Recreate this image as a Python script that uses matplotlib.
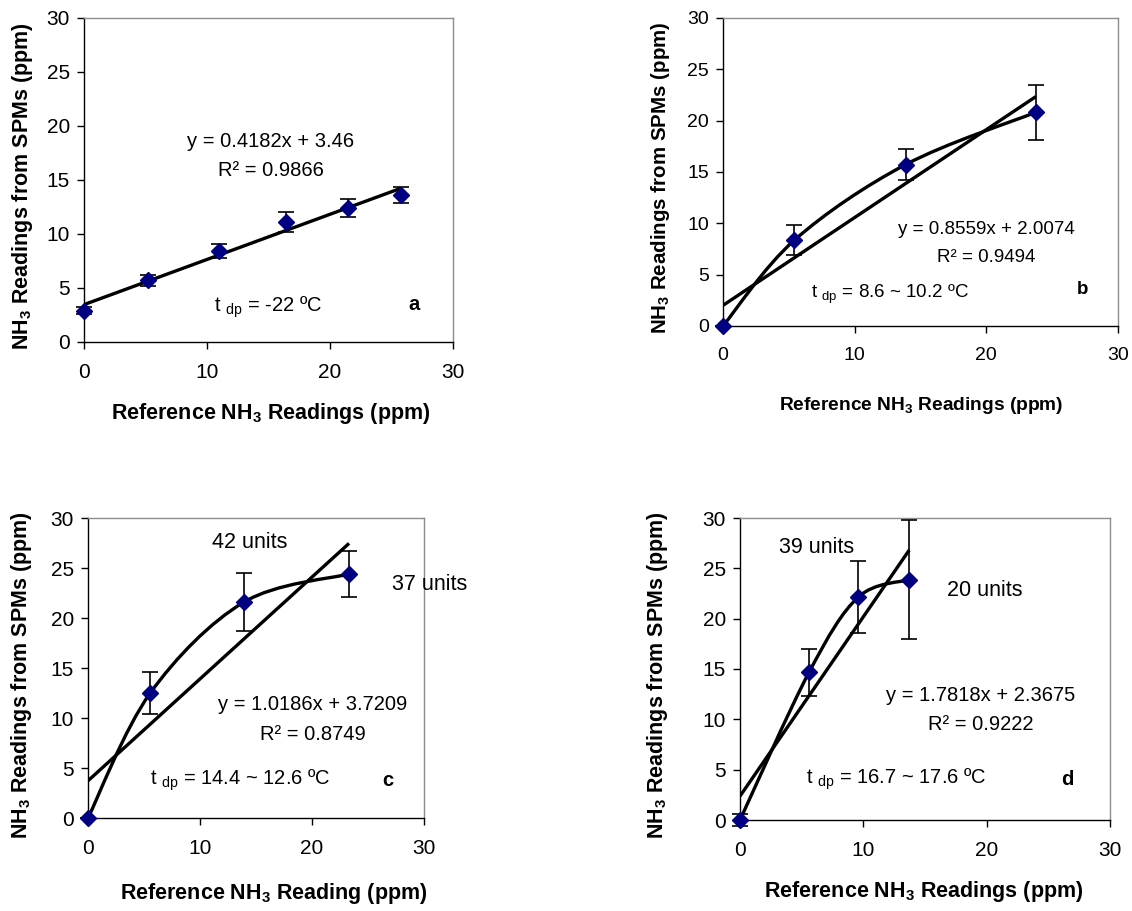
import numpy as np
import matplotlib
matplotlib.use("Agg")
import matplotlib.pyplot as plt
from matplotlib.path import Path

plt.rcParams['font.family'] = ['Liberation Sans', 'DejaVu Sans']
plt.rcParams['mathtext.fontset'] = 'custom'
plt.rcParams['mathtext.rm'] = 'Liberation Sans'
plt.rcParams['mathtext.it'] = 'Liberation Sans'
plt.rcParams['mathtext.bf'] = 'Liberation Sans:bold'

# ---------------- data ----------------
a_x = [0, 5.2, 10.95, 16.45, 21.5, 25.75]
a_y = [2.9, 5.7, 8.4, 11.1, 12.4, 13.6]
a_err = [0.3, 0.5, 0.65, 0.9, 0.8, 0.75]
a_fit = (0.4182, 3.46)

b_x = [0, 5.43, 13.88, 23.77]
b_y = [0, 8.37, 15.73, 20.82]
b_err = [0, 1.5, 1.5, 2.7]
b_fit = (0.8559, 2.0074)

c_x = [0, 5.56, 13.89, 23.31]
c_y = [0, 12.5, 21.57, 24.4]
c_err = [0, 2.1, 2.9, 2.3]
c_fit = (1.0186, 3.7209)

d_x = [0, 5.6, 9.59, 13.72]
d_y = [0, 14.68, 22.14, 23.87]
d_err = [0.6, 2.35, 3.55, 5.9]
d_fit = (1.7818, 2.3675)

xticks = [0, 10, 20, 30]
yticks = [0, 5, 10, 15, 20, 25, 30]

W, H = 1132, 911
fig = plt.figure(figsize=(W / 100, H / 100), dpi=100)


def px_axes(l, r, t, b):
    return fig.add_axes([l / W, 1 - b / H, (r - l) / W, (b - t) / H])


def style(ax, fs=15):
    ax.set_xlim(0, 30)
    ax.set_ylim(0, 30)
    ax.set_xticks(xticks)
    ax.set_yticks(yticks)
    for s in ['top', 'right']:
        ax.spines[s].set_color('#8c8c8c')
    for s in ['left', 'bottom']:
        ax.spines[s].set_color('black')
    for s in ax.spines.values():
        s.set_linewidth(1.0)
    ax.tick_params(direction='out', length=5, width=1, labelsize=fs)
    ax.tick_params(axis='y', pad=5)
    ax.tick_params(axis='x', pad=10)


def smooth_path(x, y):
    # Excel-style smoothed line: cubic Bezier segments with Catmull-Rom control points
    P = np.column_stack([x, y])
    n = len(P)
    verts = [P[0]]
    codes = [Path.MOVETO]
    for i in range(n - 1):
        p0 = P[i - 1] if i > 0 else P[i]
        p1 = P[i]
        p2 = P[i + 1]
        p3 = P[i + 2] if i + 2 < n else P[i + 1]
        c1 = p1 + (p2 - p0) / 6.0
        c2 = p2 - (p3 - p1) / 6.0
        verts += [c1, c2, p2]
        codes += [Path.CURVE4] * 3
    return Path(verts, codes)


def draw(ax, x, y, err, fit, curve=True):
    x = np.asarray(x, float)
    y = np.asarray(y, float)
    xs = np.array([x.min(), x.max()])
    ax.plot(xs, fit[0] * xs + fit[1], color='black', lw=2.4, zorder=3,
            solid_capstyle='butt')
    if curve:
        import matplotlib.patches as mpatches
        ax.add_patch(mpatches.PathPatch(smooth_path(x, y), fill=False,
                                        edgecolor='black', lw=2.4, zorder=3))
    ax.errorbar(x, y, yerr=err, fmt='none', ecolor='black', elinewidth=1.2,
                capsize=6, capthick=1.2, zorder=4, clip_on=False)
    ax.plot(x, y, linestyle='none', marker='D', ms=8, color='#000080',
            zorder=5, clip_on=False)


NH3_Y = r'NH$_\mathbf{3}$ Readings from SPMs (ppm)'
TFS = 14.5
LFS = 15.5

# ---- panel a ----
ax = px_axes(84, 453, 18, 342)
style(ax)
draw(ax, a_x, a_y, a_err, a_fit, curve=False)
ax.text(15.2, 18.6, 'y = 0.4182x + 3.46', ha='center', va='center', fontsize=TFS)
ax.text(15.2, 15.9, 'R² = 0.9866', ha='center', va='center', fontsize=TFS)
ax.text(15.0, 3.25, r't $_{\mathrm{dp}}$ = -22 ºC', ha='center', va='center', fontsize=TFS)
ax.text(26.8, 3.5, 'a', ha='center', va='center', fontsize=TFS, fontweight='bold')
fig.text(271 / W, 1 - 413 / H, r'Reference NH$_\mathbf{3}$ Readings (ppm)', ha='center', va='center',
         fontsize=LFS, fontweight='bold')
fig.text(23 / W, 1 - 186 / H, NH3_Y, ha='center', va='center', rotation=90,
         fontsize=LFS, fontweight='bold')

# ---- panel b ----
ax = px_axes(723, 1118, 18, 326)
style(ax, fs=14)
draw(ax, b_x, b_y, b_err, b_fit)
ax.text(20.0, 9.4, 'y = 0.8559x + 2.0074', ha='center', va='center', fontsize=13.5)
ax.text(20.0, 6.65, 'R² = 0.9494', ha='center', va='center', fontsize=13.5)
ax.text(12.7, 3.1, r't $_{\mathrm{dp}}$ = 8.6 ~ 10.2 ºC', ha='center', va='center', fontsize=13.5)
ax.text(27.3, 3.6, 'b', ha='center', va='center', fontsize=13.5, fontweight='bold')
fig.text(921 / W, 1 - 405 / H, r'Reference NH$_\mathbf{3}$ Readings (ppm)', ha='center', va='center',
         fontsize=13.8, fontweight='bold')
fig.text(660 / W, 1 - 178 / H, NH3_Y, ha='center', va='center', rotation=90,
         fontsize=14.8, fontweight='bold')

# ---- panel c ----
ax = px_axes(88, 424, 518, 818)
style(ax)
draw(ax, c_x, c_y, c_err, c_fit)
ax.text(14.4, 27.5, '42 units', ha='center', va='center', fontsize=TFS + 1)
ax.text(30.5, 23.3, '37 units', ha='center', va='center', fontsize=TFS + 1, clip_on=False)
ax.text(20.1, 11.3, 'y = 1.0186x + 3.7209', ha='center', va='center', fontsize=TFS)
ax.text(20.1, 8.3, 'R² = 0.8749', ha='center', va='center', fontsize=TFS)
ax.text(13.6, 3.8, r't $_{\mathrm{dp}}$ = 14.4 ~ 12.6 ºC', ha='center', va='center', fontsize=TFS)
ax.text(26.8, 3.8, 'c', ha='center', va='center', fontsize=TFS, fontweight='bold')
fig.text(274 / W, 1 - 894 / H, r'Reference NH$_\mathbf{3}$ Reading (ppm)', ha='center', va='center',
         fontsize=LFS, fontweight='bold')
fig.text(22 / W, 1 - 675 / H, NH3_Y, ha='center', va='center', rotation=90,
         fontsize=LFS, fontweight='bold')

# ---- panel d ----
ax = px_axes(740, 1110, 518, 820)
style(ax)
draw(ax, d_x, d_y, d_err, d_fit)
ax.text(6.2, 27.1, '39 units', ha='center', va='center', fontsize=TFS + 1)
ax.text(19.85, 22.8, '20 units', ha='center', va='center', fontsize=TFS + 1)
ax.text(19.5, 12.4, 'y = 1.7818x + 2.3675', ha='center', va='center', fontsize=TFS)
ax.text(19.5, 9.45, 'R² = 0.9222', ha='center', va='center', fontsize=TFS)
ax.text(12.7, 4.0, r't $_{\mathrm{dp}}$ = 16.7 ~ 17.6 ºC', ha='center', va='center', fontsize=TFS)
ax.text(26.5, 4.0, 'd', ha='center', va='center', fontsize=TFS, fontweight='bold')
fig.text(924 / W, 1 - 892 / H, r'Reference NH$_\mathbf{3}$ Readings (ppm)', ha='center', va='center',
         fontsize=LFS, fontweight='bold')
fig.text(658 / W, 1 - 675 / H, NH3_Y, ha='center', va='center', rotation=90,
         fontsize=LFS, fontweight='bold')

fig.savefig('out.png', dpi=100)
